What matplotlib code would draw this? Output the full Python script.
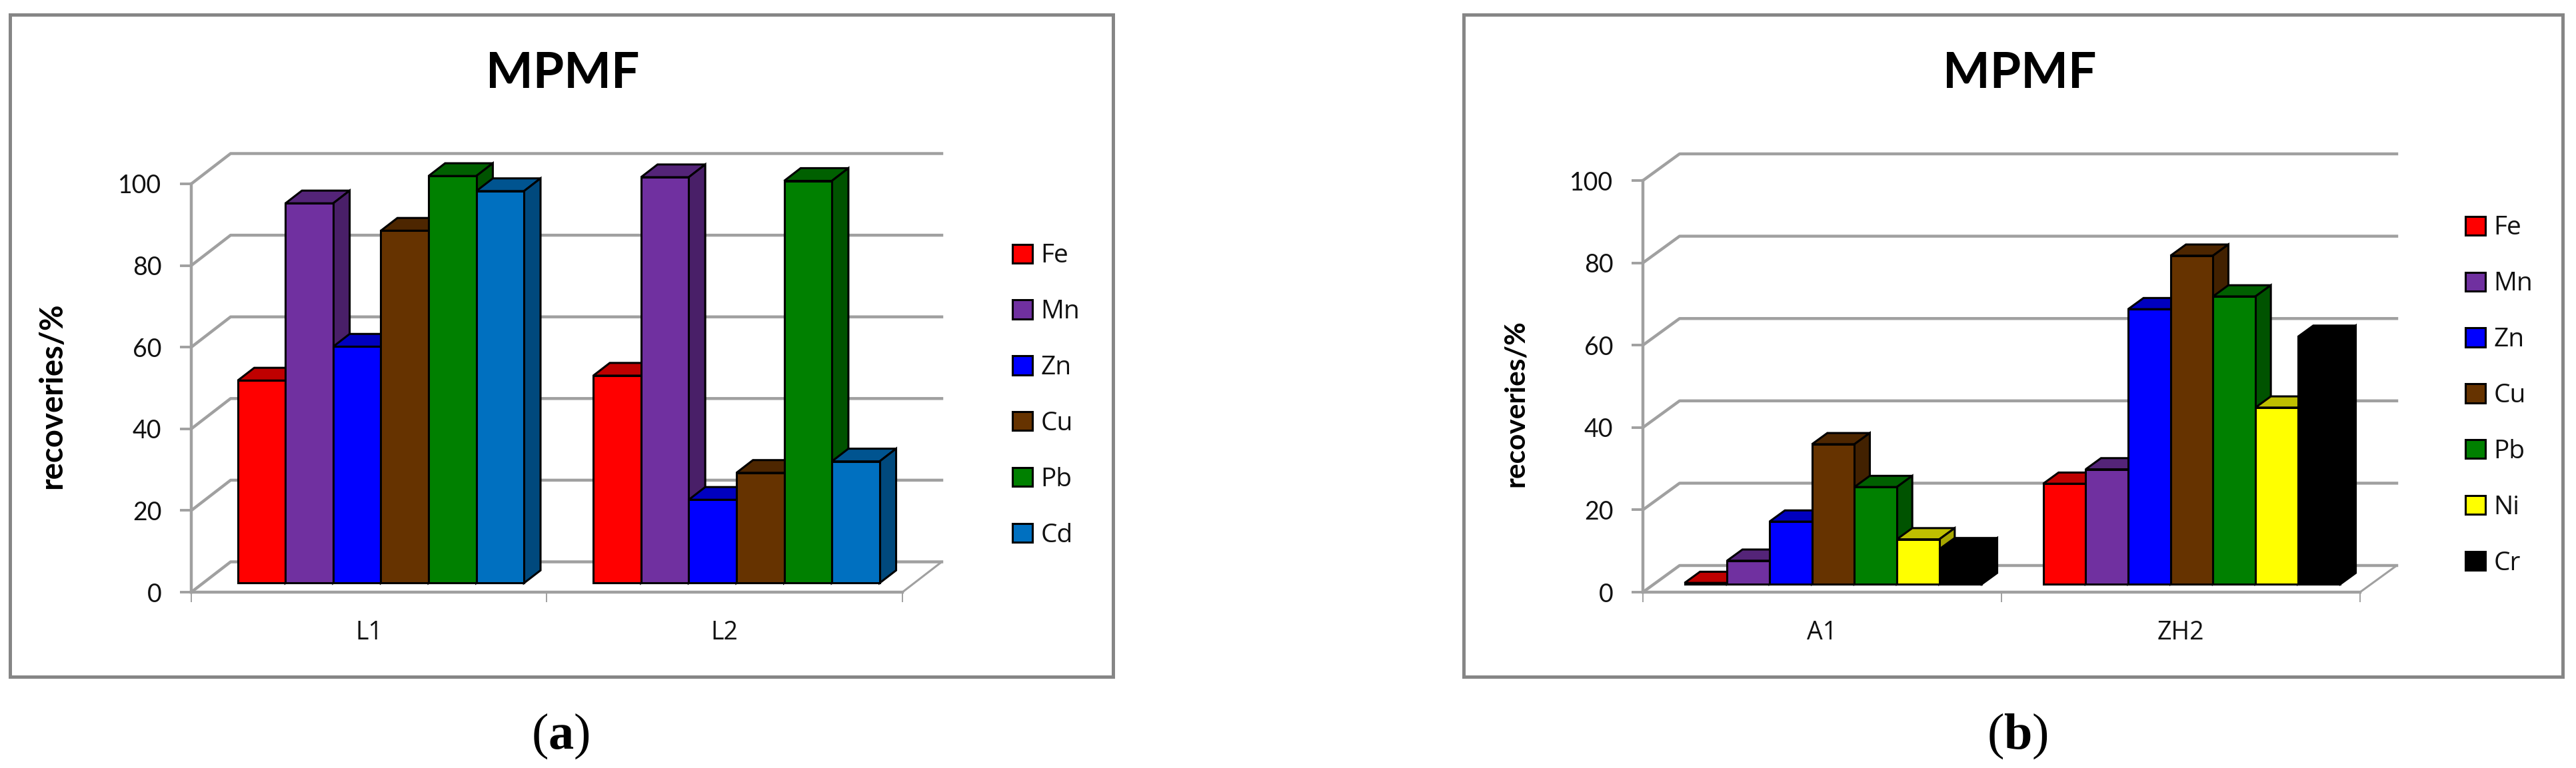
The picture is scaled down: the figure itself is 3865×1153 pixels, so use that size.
import numpy as np
import matplotlib
matplotlib.use('Agg')
import matplotlib.pyplot as plt
from matplotlib.patches import Polygon, Patch, Rectangle
from matplotlib.colors import to_rgb

# values
left_groups = ['L1', 'L2']
left_metals = ['Fe', 'Mn', 'Zn', 'Cu', 'Pb', 'Cd']
left_first = [49.6, 93, 57.9, 86.3, 99.7, 96]
left_second = [50.8, 99.4, 20.4, 27, 98.5, 29.8]

right_groups = ['A1', 'ZH2']
right_metals = ['Fe', 'Mn', 'Zn', 'Cu', 'Pb', 'Ni', 'Cr']
right_first = [0.3, 5.7, 15.2, 34, 23.6, 10.9, 8.5]
right_second = [24.4, 27.9, 66.8, 79.8, 69.9, 42.9, 60.1]

y_ticks = [0, 20, 40, 60, 80, 100]

colors = {'Fe': '#FF0000', 'Mn': '#7030A0', 'Zn': '#0000FF', 'Cu': '#663300',
          'Pb': '#008000', 'Cd': '#0070C0', 'Ni': '#FFFF00', 'Cr': '#000000'}

W, H = 3866, 1153
GRID = '#A0A0A0'
FRAME = '#868686'

plt.rcParams['font.family'] = ['Lato', 'DejaVu Sans']
plt.rcParams['mathtext.fontset'] = 'custom'
plt.rcParams['mathtext.bf'] = 'Liberation Serif:bold'


def shade(color, k):
    return tuple(c * k for c in to_rgb(color))


def draw_chart(box, front, depth, legend_x, title_x, ylabel, groups, metals, values, bar_w, caption):
    # frame round the chart, in pixels of the picture
    fig.add_artist(Rectangle((box[0] / W, 1 - box[3] / H), (box[2] - box[0]) / W, (box[3] - box[1]) / H,
                             transform=fig.transFigure, fill=False, edgecolor=FRAME, linewidth=3.6))

    x0, x1, y0, y100 = front
    ax = fig.add_axes([x0 / W, 1 - y0 / H, (x1 - x0) / W, (y0 - y100) / H])
    ax.patch.set_visible(False)
    ax.set_xlim(0, len(groups))
    ax.set_ylim(0, 100)

    # depth direction in data units
    dx = depth[0] / ((x1 - x0) / len(groups))
    dy = depth[1] / ((y0 - y100) / 100)

    for v in y_ticks:
        ax.plot([0, dx, len(groups) + dx], [v, v + dy, v + dy], color=GRID, lw=3.2, clip_on=False, zorder=1)
    ax.plot([len(groups), len(groups) + dx], [0, dy], color=GRID, lw=2.2, clip_on=False, zorder=1)

    d0, d1 = 0.3, 0.72
    z = 3
    n = len(metals)
    for g in range(len(groups)):
        for i, m in enumerate(metals):
            c = colors[m]
            v = values[g][i]
            left = g + 0.5 - n * bar_w / 2 + i * bar_w + d0 * dx
            right = left + bar_w
            base = d0 * dy
            top = v + base
            ddx = (d1 - d0) * dx
            ddy = (d1 - d0) * dy
            ax.add_patch(Polygon([(left, top), (left + ddx, top + ddy), (right + ddx, top + ddy), (right, top)],
                                 facecolor=shade(c, 0.75), edgecolor='black', lw=2.2, clip_on=False, zorder=z, joinstyle='miter'))
            ax.add_patch(Polygon([(right, base), (right + ddx, base + ddy), (right + ddx, top + ddy), (right, top)],
                                 facecolor=shade(c, 0.65), edgecolor='black', lw=2.2, clip_on=False, zorder=z, joinstyle='miter'))
            ax.bar(left, v, bar_w, bottom=base, align='edge', color=c, edgecolor='black', linewidth=2.2,
                   clip_on=False, zorder=z + 0.5)
            z += 1

    for s in ['top', 'right']:
        ax.spines[s].set_visible(False)
    for s in ['left', 'bottom']:
        ax.spines[s].set_color(GRID)
        ax.spines[s].set_linewidth(3.2)
        ax.spines[s].set_zorder(2)

    ax.set_yticks(y_ticks)
    ax.tick_params(axis='y', length=12, width=2.8, color=GRID, labelsize=27, labelcolor='#111111', pad=20)
    ax.set_xticks(range(len(groups) + 1))
    ax.set_xticklabels([])
    ax.tick_params(axis='x', which='major', length=11, width=1.4, color=GRID)
    ax.set_xticks(np.arange(len(groups)) + 0.5, minor=True)
    ax.set_xticklabels(groups, minor=True, fontsize=27, family='Open Sans', color='#111111')
    ax.tick_params(axis='x', which='minor', length=0, pad=30)

    label_x, label_y, label_size = ylabel
    ax.set_ylabel('recoveries/%', fontsize=label_size, fontweight='bold', color='black')
    ax.yaxis.set_label_coords((label_x - x0) / (x1 - x0), (y0 - label_y) / (y0 - y100))

    fig.text(title_x / W, 1 - 111 / H, 'MPMF', fontsize=54, fontweight='bold', ha='center', va='center')
    fig.text((title_x - 3) / W, 1 - 1105 / H, caption, fontsize=55, family='Liberation Serif', ha='center', va='center')

    handles = [Patch(facecolor=colors[m], edgecolor='black', linewidth=2.2) for m in metals]
    fig.legend(handles, metals, loc='center left', bbox_to_anchor=(legend_x / W, 1 - 594 / H), frameon=False,
               prop={'family': 'Open Sans', 'size': 28}, labelcolor='#111111', handlelength=0.77, handleheight=0.74,
               handletextpad=0.32, labelspacing=1.18, borderpad=0, borderaxespad=0)


fig = plt.figure(figsize=(W / 100, H / 100), dpi=100)

draw_chart((15, 22, 1670, 1016), (287, 1354, 889, 276), (59, 45.5), 1519, 844, (100, 594, 34),
           left_groups, left_metals, [left_first, left_second], 0.1342, r'($\mathbf{a}$)')
draw_chart((2196, 22, 3845, 1016), (2465, 3541, 889, 271), (55, 40), 3699, 3030, (2293, 606, 30.5),
           right_groups, right_metals, [right_first, right_second], 0.1184, r'($\mathbf{b}$)')

fig.savefig('out.png', dpi=100)
